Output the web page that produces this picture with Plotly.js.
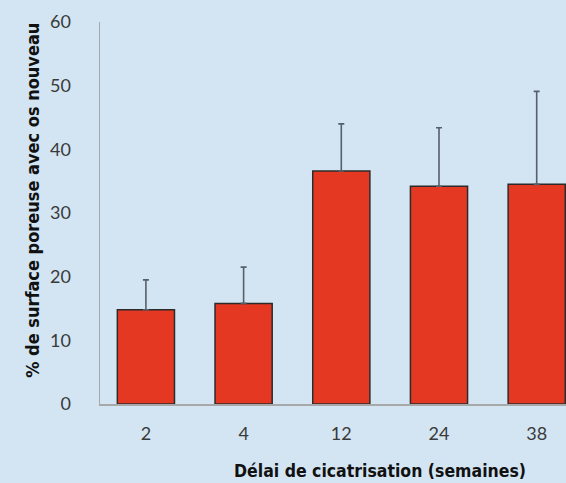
<!DOCTYPE html>
<html><head><meta charset="utf-8">
<script src="https://cdn.plot.ly/plotly-3.0.1.min.js"></script>
<style>html,body{margin:0;padding:0;background:#d3e5f3;}</style>
</head><body><div id="chart" style="width:566px;height:483px;"></div>
<script>
const categories = ["2", "4", "12", "24", "38"];
const values = [14.8, 15.8, 36.6, 34.2, 34.5];
const errorsPlus = [4.7, 5.7, 7.4, 9.2, 14.6];
const yTicks = [0, 10, 20, 30, 40, 50, 60];
const xTitle = "Délai de cicatrisation (semaines)";
const yTitle = "% de surface poreuse avec os nouveau";

const trace = {
  type: "bar",
  x: categories,
  y: values,
  width: 0.585,
  marker: {color: "#e43823", line: {color: "#2b2b2b", width: 1.5}},
  error_y: {type: "data", array: errorsPlus, symmetric: false, arrayminus: values.map(() => 0),
            color: "#56606a", thickness: 1.6, width: 3}
};
const layout = {
  width: 566, height: 483,
  paper_bgcolor: "#d3e5f3", plot_bgcolor: "#d3e5f3",
  margin: {l: 100, r: 0, t: 22, b: 79},
  showlegend: false,
  font: {family: "Lato, sans-serif", color: "#333"},
  xaxis: {type: "category", range: [-0.47, 4.3], showline: true, linecolor: "#a8a8a8", linewidth: 1.5,
          ticks: "outside", ticklen: 13, tickcolor: "rgba(0,0,0,0)", showgrid: false, zeroline: false,
          tickfont: {family: "Lato, sans-serif", size: 18, color: "#3a3a3a"}},
  yaxis: {range: [0, 60], tickvals: yTicks, showline: true, linecolor: "#a8a8a8", linewidth: 1.5,
          ticks: "outside", ticklen: 24, tickcolor: "rgba(0,0,0,0)", showgrid: false, zeroline: false,
          tickfont: {family: "Lato, sans-serif", size: 18, color: "#3a3a3a"}},
  annotations: [
    {text: "<b>" + xTitle + "</b>", xref: "paper", yref: "paper", x: 0.6, y: -0.175, xanchor: "center", yanchor: "middle",
     showarrow: false, font: {family: "DejaVu Sans Condensed, sans-serif", size: 17.5, color: "#111"}},
    {text: "<b>" + yTitle + "</b>", xref: "paper", yref: "paper", x: -0.145, y: 0.533, xanchor: "center", yanchor: "middle",
     textangle: -90, showarrow: false, font: {family: "DejaVu Sans Condensed, sans-serif", size: 18, color: "#111"}}
  ]
};
Plotly.newPlot("chart", [trace], layout, {displayModeBar: false, staticPlot: true});
</script></body></html>
